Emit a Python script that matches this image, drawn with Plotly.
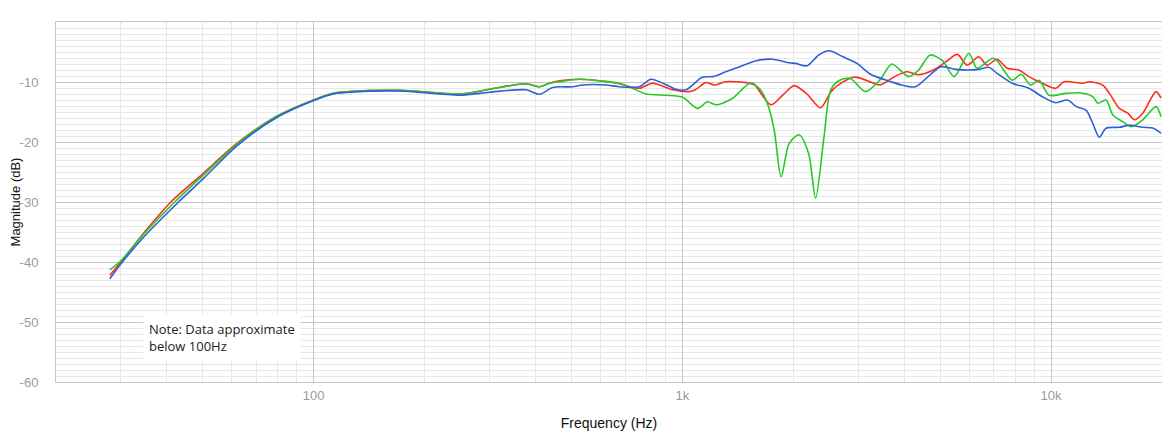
import plotly.graph_objects as go

red_f = [28, 30, 35, 41, 50, 62, 79, 100, 113, 125, 171, 249, 300, 377, 410, 436, 464, 525, 595, 675, 764, 830, 942, 1043, 1085, 1157, 1222, 1312, 1488, 1560, 1737, 1872, 2010, 2177, 2370, 2555, 2916, 3308, 3440, 3765, 4064, 4375, 4794, 5192, 5572, 5921, 6369, 6705, 7141, 7602, 8181, 8712, 9470, 10300, 10850, 12180, 12700, 13800, 14400, 15320, 16150, 16840, 17740, 19270, 19880]
red_db = [-42.2, -40, -34.8, -30, -25.3, -20.2, -15.8, -13, -11.9, -11.6, -11.4, -12, -11.2, -10.3, -10.8, -10.2, -9.8, -9.55, -9.8, -10.3, -11.05, -10.2, -11.3, -11.6, -11.3, -10.1, -10.5, -9.95, -10.1, -10.3, -13.8, -12.2, -10.6, -12, -14.3, -11.3, -9.2, -10.2, -10.5, -9.1, -8.3, -8.8, -8, -6.6, -5.4, -7.2, -5.8, -7.2, -6.2, -7.7, -8, -9.1, -10.2, -11.05, -9.95, -10.2, -9.95, -10.5, -11.9, -14.4, -15.2, -16.3, -15.2, -11.6, -12.7]

green_f = [28, 30, 35, 42, 50, 62, 79, 100, 113, 125, 171, 249, 300, 377, 410, 436, 464, 525, 595, 675, 717, 797, 903, 1002, 1100, 1170, 1235, 1370, 1520, 1616, 1700, 1775, 1853, 1950, 2071, 2200, 2298, 2423, 2527, 2672, 2856, 3138, 3440, 3700, 4107, 4375, 4700, 5080, 5460, 5987, 6303, 6990, 7845, 8300, 8800, 9280, 9876, 10960, 11960, 12980, 13400, 14100, 14720, 15630, 16500, 17740, 19270, 19880]
green_db = [-41.3, -39.8, -35.0, -30, -25.6, -20.3, -15.8, -13, -11.9, -11.6, -11.4, -12, -11.2, -10.3, -10.8, -10.2, -9.95, -9.55, -9.8, -10.2, -10.8, -12, -12.2, -12.55, -14.4, -13.3, -13.8, -12.7, -10.3, -11.05, -13.55, -18, -25.8, -20.2, -18.8, -21.9, -29.4, -19.1, -11.3, -9.7, -9.4, -11.6, -9.6, -7, -9.1, -8, -5.5, -6.45, -9.1, -5.2, -7.7, -6.05, -9.7, -8.7, -10.5, -9.7, -12.2, -11.9, -11.8, -12.45, -13.55, -13, -15.5, -16.6, -17.45, -16.3, -14.1, -15.8]

blue_f = [28, 30, 35, 43, 50, 62, 79, 100, 113, 125, 171, 249, 300, 377, 410, 445, 504, 536, 620, 675, 764, 822, 886, 960, 1025, 1131, 1210, 1312, 1425, 1585, 1756, 1950, 2030, 2177, 2345, 2502, 2728, 2976, 3240, 3680, 3932, 4284, 4700, 5030, 5515, 6369, 6775, 7141, 7845, 8712, 9470, 10300, 11090, 11710, 12440, 12980, 13520, 14100, 15320, 16320, 17740, 18950, 19880]
blue_db = [-42.8, -40.3, -35.5, -30, -26.2, -20.6, -16, -13.1, -12, -11.7, -11.5, -12.2, -11.7, -11.3, -12.05, -10.9, -10.8, -10.5, -10.5, -10.8, -10.8, -9.55, -10.2, -11.2, -11.3, -9.2, -9.1, -8.3, -7.5, -6.45, -6.2, -6.8, -6.9, -7.3, -5.5, -4.8, -5.8, -6.9, -8.7, -9.95, -10.5, -10.8, -8.8, -7.45, -7.9, -7.9, -7.55, -8.55, -10.2, -11.05, -12.45, -13.45, -13, -14.1, -14.7, -16.9, -19.2, -17.7, -17.55, -17.2, -17.55, -17.7, -18.55]

x_tick_vals = [100, 1000, 10000]
x_tick_text = ["100", "1k", "10k"]
y_tick_vals = [-60, -50, -40, -30, -20, -10]
y_tick_text = ["-60", "-50", "-40", "-30", "-20", "-10"]
note_text = "Note: Data approximate<br>below 100Hz"

minor_x = [m * 10 ** d for d in range(1, 5) for m in range(2, 10) if 20 <= m * 10 ** d <= 20000]

fig = go.Figure()
for f, db, col in [(red_f, red_db, "#ff2b1c"), (green_f, green_db, "#26c926"), (blue_f, blue_db, "#2d5fd8")]:
    fig.add_trace(go.Scatter(x=f, y=db, mode="lines",
                             line=dict(color=col, width=1.6, shape="spline", smoothing=0.8),
                             showlegend=False, hoverinfo="skip"))

fig.update_layout(
    width=1162, height=436,
    margin=dict(l=48, r=8, t=14, b=62),
    paper_bgcolor="white", plot_bgcolor="white",
    font=dict(family="Liberation Sans, Arial, sans-serif", size=13, color="#999999"),
    xaxis=dict(type="log", range=[1.30103, 4.30103], automargin=False,
               tickvals=x_tick_vals, ticktext=x_tick_text,
               showgrid=True, gridcolor="#c6c6c6", gridwidth=1,
               minor=dict(tickvals=minor_x, showgrid=True, gridcolor="#e6e6e6", gridwidth=1, ticklen=0),
               showline=True, linecolor="#c6c6c6", linewidth=1, mirror=True,
               ticks="", zeroline=False, ticklabelstandoff=1,
               tickfont=dict(size=13, color="#9a9a9a"),
               title=dict(text="Frequency (Hz)", font=dict(size=14, color="#111111"), standoff=16)),
    yaxis=dict(range=[-60, 0], automargin=False,
               tickvals=y_tick_vals, ticktext=y_tick_text,
               showgrid=True, gridcolor="#c6c6c6", gridwidth=1,
               minor=dict(dtick=1, showgrid=True, gridcolor="#e8e8e8", gridwidth=1, ticklen=0),
               showline=True, linecolor="#c6c6c6", linewidth=1, mirror=True,
               ticks="", zeroline=False, ticklabelstandoff=14,
               tickfont=dict(size=13, color="#9a9a9a"),
               title=dict(text="Magnitude (dB)", font=dict(size=13, color="#111111"), standoff=10)),
)

fig.add_annotation(x=1.536, y=-48.7, xref="x", yref="y", text=note_text,
                   showarrow=False, xanchor="left", yanchor="top", align="left",
                   bgcolor="white", borderpad=5,
                   font=dict(size=13, color="#222222", family="Open Sans, Liberation Sans, sans-serif"))

fig.write_html("out.html")
